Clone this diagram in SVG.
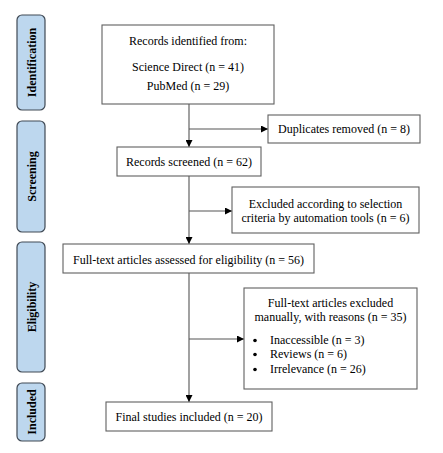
<svg xmlns="http://www.w3.org/2000/svg" width="443" height="453" viewBox="0 0 443 453">
<style>
.side{fill:#bdd7ee;stroke:#404a55;stroke-width:1.2}
.sidet{font-family:'Liberation Serif','Times New Roman',Tinos,'DejaVu Serif',serif;font-weight:bold;font-size:12px;fill:#000;text-anchor:middle}
.box{fill:#fff;stroke:#606060;stroke-width:1.1}
.t{font-family:'Liberation Serif','Times New Roman',Tinos,'DejaVu Serif',serif;font-size:12px;fill:#000}
.c{text-anchor:middle}
.ln{stroke:#555;stroke-width:1.1;fill:none}
</style>
<defs>
<marker id="ah" viewBox="0 0 10 10" refX="10" refY="5" markerWidth="7" markerHeight="7" markerUnits="userSpaceOnUse" orient="auto">
<path d="M0,0 L10,5 L0,10 z" fill="#000"/>
</marker>
</defs>
<rect width="443" height="453" fill="#fff"/>
<g id="phase-identification">
<rect class="side" x="17" y="15" width="28" height="95" rx="5"/>
<text class="sidet" transform="translate(35.5,62.5) rotate(-90)">Identification</text>
</g>
<g id="phase-screening">
<rect class="side" x="17" y="121" width="28" height="111" rx="5"/>
<text class="sidet" transform="translate(35.5,176.5) rotate(-90)">Screening</text>
</g>
<g id="phase-eligibility">
<rect class="side" x="17" y="242" width="28" height="130" rx="5"/>
<text class="sidet" transform="translate(35.5,307) rotate(-90)">Eligibility</text>
</g>
<g id="phase-included">
<rect class="side" x="17" y="383" width="28" height="58" rx="5"/>
<text class="sidet" transform="translate(35.5,412) rotate(-90)">Included</text>
</g>
<g id="connectors">
<line class="ln" x1="189" y1="104" x2="189" y2="147" marker-end="url(#ah)"/>
<line class="ln" x1="189" y1="129" x2="268" y2="129" marker-end="url(#ah)"/>
<line class="ln" x1="189" y1="176" x2="189" y2="244" marker-end="url(#ah)"/>
<line class="ln" x1="189" y1="211" x2="232" y2="211" marker-end="url(#ah)"/>
<line class="ln" x1="189" y1="273" x2="189" y2="402" marker-end="url(#ah)"/>
<line class="ln" x1="189" y1="339" x2="244" y2="339" marker-end="url(#ah)"/>
</g>
<g id="records-identified">
<rect class="box" x="102" y="25" width="172" height="79"/>
<text class="t c" x="188" y="44.5">Records identified from:</text>
<text class="t c" x="188" y="70.5">Science Direct (n = 41)</text>
<text class="t c" x="188" y="89.5">PubMed (n = 29)</text>
</g>
<g id="duplicates-removed">
<rect class="box" x="268" y="115" width="152" height="28"/>
<text class="t c" x="344" y="133">Duplicates removed (n = 8)</text>
</g>
<g id="records-screened">
<rect class="box" x="117" y="147" width="144" height="29"/>
<text class="t c" x="189" y="166">Records screened (n = 62)</text>
</g>
<g id="excluded-automation">
<rect class="box" x="232" y="187" width="187" height="46"/>
<text class="t c" x="325.5" y="208">Excluded according to selection</text>
<text class="t c" x="325.5" y="222">criteria by automation tools (n = 6)</text>
</g>
<g id="fulltext-assessed">
<rect class="box" x="63" y="244" width="251" height="29"/>
<text class="t c" x="188.5" y="264">Full-text articles assessed for eligibility (n = 56)</text>
</g>
<g id="fulltext-excluded">
<rect class="box" x="244" y="288" width="173" height="101"/>
<text class="t c" x="330.5" y="307">Full-text articles excluded</text>
<text class="t c" x="330.5" y="321">manually, with reasons (n = 35)</text>
<circle cx="255" cy="340.5" r="1.8" fill="#000"/>
<text class="t" x="270" y="344">Inaccessible (n = 3)</text>
<circle cx="255" cy="354.5" r="1.8" fill="#000"/>
<text class="t" x="270" y="358">Reviews (n = 6)</text>
<circle cx="255" cy="369.5" r="1.8" fill="#000"/>
<text class="t" x="270" y="373">Irrelevance (n = 26)</text>
</g>
<g id="final-included">
<rect class="box" x="106" y="402" width="166" height="29"/>
<text class="t c" x="189" y="421">Final studies included (n = 20)</text>
</g>
</svg>
